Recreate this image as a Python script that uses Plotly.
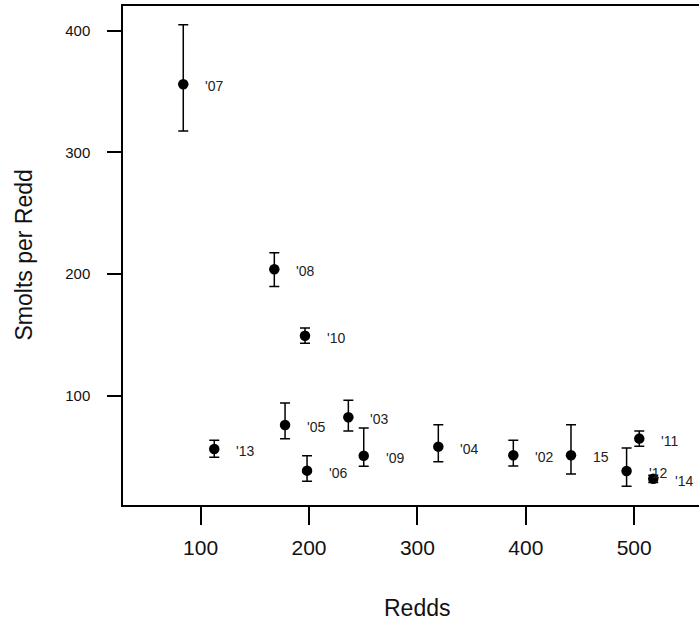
import plotly.graph_objects as go

# ---- data ----
year_labels = ["'07", "'08", "'10", "'05", "'03", "'13", "'06", "'09", "'04", "'02", "15", "'12", "'11", "'14"]
redds = [84, 168, 196.3, 177.9, 236.3, 112.6, 198.2, 250.5, 319.3, 388.5, 441.7, 493, 504.7, 517.6]
smolts_per_redd = [356, 204, 149.5, 76.2, 82.5, 56.5, 38.7, 51, 58.4, 51.3, 51.3, 38.4, 65, 32.1]
lower_ci = [317.6, 190, 143.3, 64.9, 71.3, 49.7, 30, 42.3, 46.1, 42.5, 36, 25.9, 58.7, 29]
upper_ci = [404.8, 217.7, 155.8, 94.3, 96.5, 63.6, 51, 73.7, 76.4, 63.6, 76.4, 57.3, 71.3, 35]

x_ticks = [100, 200, 300, 400, 500]
y_ticks = [100, 200, 300, 400]
x_range = [28.4, 559.8]
y_range = [10.5, 420.2]
x_title_center = 300  # original (uncropped) plot centre

FONT = "Liberation Sans, Arial, sans-serif"

err_plus = [u - s for u, s in zip(upper_ci, smolts_per_redd)]
err_minus = [s - l for s, l in zip(smolts_per_redd, lower_ci)]

fig = go.Figure()
fig.add_trace(go.Scatter(
    x=redds, y=smolts_per_redd, mode="markers",
    marker=dict(color="black", size=10.5),
    error_y=dict(type="data", symmetric=False, array=err_plus, arrayminus=err_minus,
                 color="black", thickness=1.5, width=5),
    showlegend=False, hoverinfo="skip",
))

annotations = []
for lab, xv, yv in zip(year_labels, redds, smolts_per_redd):
    annotations.append(dict(x=xv, y=yv, xref="x", yref="y", text=lab, showarrow=False,
                            xanchor="left", yanchor="middle", xshift=20, yshift=-2,
                            font=dict(family=FONT, size=14, color="#222")))

# axis titles
annotations.append(dict(x=x_title_center, y=-0.207, xref="x", yref="paper", text="Redds",
                        showarrow=False, xanchor="center", yanchor="middle",
                        font=dict(family=FONT, size=23, color="#111")))
annotations.append(dict(x=-0.1736, y=0.5, xref="paper", yref="paper", text="Smolts per Redd",
                        showarrow=False, textangle=-90, xanchor="center", yanchor="middle",
                        font=dict(family=FONT, size=23, color="#111")))

fig.update_layout(
    width=699, height=625,
    margin=dict(l=123, r=0, t=6, b=120),
    paper_bgcolor="white", plot_bgcolor="white",
    annotations=annotations,
    xaxis=dict(range=x_range, tickvals=x_ticks, showgrid=False, zeroline=False,
               showline=True, linecolor="black", linewidth=1.5, mirror=True,
               ticks="outside", ticklen=18, tickwidth=1.5, tickcolor="black",
               ticklabelstandoff=5,
               tickfont=dict(family=FONT, size=21, color="#111")),
    yaxis=dict(range=y_range, tickvals=y_ticks, showgrid=False, zeroline=False,
               showline=True, linecolor="black", linewidth=1.5, mirror=False,
               ticks="outside", ticklen=14, tickwidth=1.5, tickcolor="black",
               ticklabelstandoff=14,
               tickfont=dict(family=FONT, size=15, color="#111")),
)

fig.write_html("out.html")
